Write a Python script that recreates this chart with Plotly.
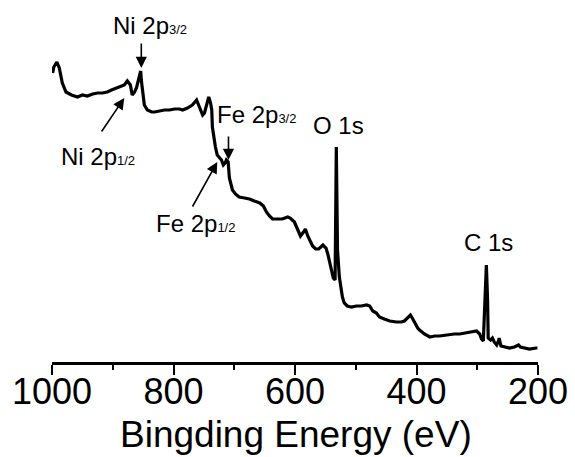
import plotly.graph_objects as go

# Binding energy (eV) and intensity (a.u.)
energy = [999, 997, 992, 988, 983, 977, 968, 958, 950, 942, 933, 925, 917, 909, 902, 894, 887, 881,
          876, 871, 868, 864, 861, 858, 854, 853, 851, 848, 843, 836, 831, 823, 815, 807, 798, 790,
          785, 777, 769, 762, 757, 752, 749, 746, 742, 739, 737, 736, 733, 731, 728, 721, 718, 715,
          713, 710, 708, 703, 698, 692, 683, 675, 667, 658, 652, 647, 642, 637, 629, 621, 612, 608,
          601, 596, 591, 586, 583, 579, 576, 571, 566, 561, 554, 549, 546, 543, 540, 537, 534, 532,
          530, 528, 527, 525, 524, 522, 519, 514, 507, 499, 491, 482, 477, 472, 466, 461, 453, 444,
          433, 425, 420, 415, 410, 407, 403, 398, 395, 387, 378, 370, 362, 351, 338, 329, 318, 310,
          301, 296, 293, 290, 287, 285, 283, 282, 278, 275, 272, 268, 265, 264, 261, 255, 247, 239,
          232, 229, 222, 214, 203, 201]
intensity = [289, 295, 300, 294, 279, 270, 267, 265, 267, 266, 268, 269, 269, 270, 272, 274, 275, 277,
             281, 277, 267, 270, 274, 282, 291, 282, 272, 257, 252, 250, 250, 251, 252, 252, 253, 253,
             252, 254, 257, 262, 255, 247, 249, 255, 265, 259, 252, 235, 222, 215, 207, 202, 197, 199,
             202, 200, 184, 172, 168, 165, 164, 163, 161, 159, 156, 150, 146, 143, 143, 143, 145, 144,
             140, 132, 126, 130, 133, 126, 122, 116, 113, 113, 117, 114, 108, 100, 92, 84, 82, 215,
             112, 92, 85, 77, 72, 65, 59, 56, 55, 56, 56, 57, 56, 51, 49, 45, 43, 41,
             40, 40, 41, 44, 47, 44, 39, 34, 32, 28, 25, 26, 26, 27, 28, 28, 29, 30,
             31, 28, 23, 21, 62, 97, 62, 24, 22, 24, 20, 17, 21, 24, 16, 15, 14, 15,
             17, 15, 14, 13, 14, 14]

x_ticks = [1000, 800, 600, 400, 200]
x_tick_labels = ["1000", "800", "600", "400", "200"]
x_title = "Bingding Energy (eV)"

# Peak labels: (html text, x centre eV, y centre a.u.)
label_texts = ["Ni 2p<span style='font-size:13px'>3/2</span>",
               "Ni 2p<span style='font-size:13px'>1/2</span>",
               "Fe 2p<span style='font-size:13px'>3/2</span>",
               "Fe 2p<span style='font-size:13px'>1/2</span>",
               "O 1s", "C 1s"]
label_x = [839, 924, 663, 764, 528, 282]
label_y = [337, 206, 248, 139, 237, 120]

# Arrows: tail (ax, ay) -> tip (x, y)
arrow_tail_x = [853, 920, 709.5, 770]
arrow_tail_y = [320, 229, 227, 154]
arrow_tip_x = [853, 881, 709.5, 728]
arrow_tip_y = [294, 264, 202, 200]

FONT = "Arial, Liberation Sans, sans-serif"

fig = go.Figure()
fig.add_trace(go.Scatter(x=energy, y=intensity, mode="lines",
                         line=dict(color="black", width=3.2), showlegend=False,
                         hoverinfo="skip"))

for t, lx, ly in zip(label_texts, label_x, label_y):
    fig.add_annotation(x=lx, y=ly, xref="x", yref="y", text=t, showarrow=False,
                       xanchor="center", yanchor="middle",
                       font=dict(family=FONT, size=24, color="black"))

for tx, ty, hx, hy in zip(arrow_tail_x, arrow_tail_y, arrow_tip_x, arrow_tip_y):
    fig.add_annotation(x=hx, y=hy, ax=tx, ay=ty, xref="x", yref="y", axref="x", ayref="y",
                       text="", showarrow=True, arrowhead=2, arrowsize=1.4, arrowwidth=1.6,
                       arrowcolor="black", standoff=0)

# axis title placed below the tick labels
fig.add_annotation(x=0.503, y=-0.137, xref="paper", yref="paper", text=x_title,
                   showarrow=False, xanchor="center", yanchor="top",
                   font=dict(family=FONT, size=37, color="black"))

fig.update_layout(
    width=575, height=457,
    margin=dict(l=52, r=37, t=0, b=95, autoexpand=False),
    paper_bgcolor="white", plot_bgcolor="white",
    font=dict(family=FONT, color="black"),
    xaxis=dict(range=[1000, 200], tickvals=x_ticks, ticktext=x_tick_labels,
               automargin=False,
               ticks="outside", ticklen=10, tickwidth=2, tickcolor="black",
               ticklabelstandoff=-14,
               minor=dict(dtick=100, ticks="outside", ticklen=5, tickwidth=2, tickcolor="black"),
               showline=True, linewidth=2.5, linecolor="black",
               showgrid=False, zeroline=False,
               tickfont=dict(family=FONT, size=36, color="black")),
    yaxis=dict(range=[0, 362], visible=False, showgrid=False, zeroline=False, automargin=False),
)

fig.write_html("out.html", config={"displayModeBar": False},
               post_script="document.body.style.margin='0';document.body.style.overflow='hidden';")
